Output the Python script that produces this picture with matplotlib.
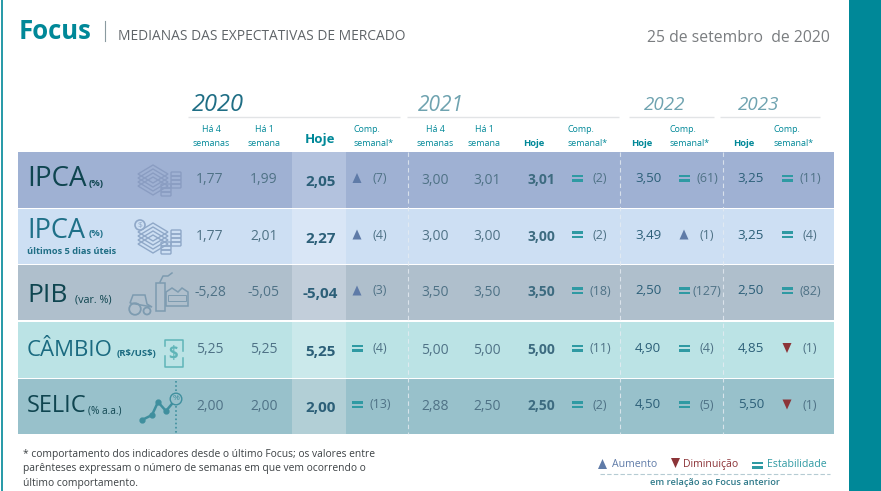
import matplotlib
matplotlib.use("Agg")
import matplotlib.pyplot as plt
from matplotlib.patches import Rectangle, Polygon, Circle, FancyBboxPatch

plt.rcParams["font.family"] = ["Open Sans", "DejaVu Sans"]

# ── data ─────────────────────────────────────────────────────────────────────
indicators = ["IPCA", "IPCA", "PIB", "CÂMBIO", "SELIC"]
units = ["(%)", "(%)", "(var. %)", "(R$/US$)", "(% a.a.)"]

y2020_4w = ["1,77", "1,77", "-5,28", "5,25", "2,00"]
y2020_1w = ["1,99", "2,01", "-5,05", "5,25", "2,00"]
y2020_today = ["2,05", "2,27", "-5,04", "5,25", "2,00"]
y2020_dir = ["up", "up", "up", "eq", "eq"]
y2020_n = ["(7)", "(4)", "(3)", "(4)", "(13)"]

y2021_4w = ["3,00", "3,00", "3,50", "5,00", "2,88"]
y2021_1w = ["3,01", "3,00", "3,50", "5,00", "2,50"]
y2021_today = ["3,01", "3,00", "3,50", "5,00", "2,50"]
y2021_dir = ["eq", "eq", "eq", "eq", "eq"]
y2021_n = ["(2)", "(2)", "(18)", "(11)", "(2)"]

y2022_today = ["3,50", "3,49", "2,50", "4,90", "4,50"]
y2022_dir = ["eq", "up", "eq", "eq", "eq"]
y2022_n = ["(61)", "(1)", "(127)", "(4)", "(5)"]

y2023_today = ["3,25", "3,25", "2,50", "4,85", "5,50"]
y2023_dir = ["eq", "eq", "eq", "down", "down"]
y2023_n = ["(11)", "(4)", "(82)", "(1)", "(1)"]

# ── layout and colours ───────────────────────────────────────────────────────
TEAL = "#008898"
UP = "#5F7BA8"
DOWN = "#8C3438"
EQ = "#2F9AA3"
VAL = "#4F7286"
BOLD = "#2C5F78"
row_top = [152, 209, 265, 322, 379]
row_bot = [208, 264, 320, 378, 434]
row_col = ["#9FB1D3", "#CDDFF3", "#AFBFCC", "#BBE3E5", "#98C1CB"]
hoje_col = ["#B3C2DE", "#D9E6F6", "#C2CEDA", "#CBE9EB", "#B2CFD6"]
name_col = ["#0F4550", "#1F7088", "#0F4550", "#1A6A80", "#0F4550"]
name_size = [20, 19.5, 19, 16, 17]
name_y = [177, 229, 294, 349, 405]
unit_x = [89, 89, 75, 117, 88]
unit_y = [183, 234, 300, 354, 411]
unit_size = [6.8, 6.8, 7.8, 6.8, 7.3]

fig = plt.figure(figsize=(8.81, 4.91), dpi=100)
ax = fig.add_axes([0, 0, 1, 1])
ax.set_xlim(0, 881)
ax.set_ylim(491, 0)
ax.axis("off")


def txt(x, y, s, size, color, ha="center", weight="normal", **kw):
    ax.text(x, y + 1.5, s, fontsize=size, color=color, ha=ha, va="center",
            fontweight=weight, parse_math=False, **kw)


def hline(x0, x1, y, color, lw=1.0, **kw):
    ax.plot([x0, x1], [y, y], color=color, lw=lw, solid_capstyle="butt", **kw)


def marker(x, y, kind):
    if kind == "up":
        ax.add_patch(Polygon([(x - 4.5, y + 5), (x + 4.5, y + 5), (x, y - 5)], color=UP, lw=0))
    elif kind == "down":
        ax.add_patch(Polygon([(x - 4.5, y - 5), (x + 4.5, y - 5), (x, y + 5)], color=DOWN, lw=0))
    else:
        ax.add_patch(Rectangle((x - 5.5, y - 3.5), 11, 2.6, color=EQ, lw=0))
        ax.add_patch(Rectangle((x - 5.5, y + 1), 11, 2.6, color=EQ, lw=0))


def coins_icon(x, y, c, dollar=False):
    # stacked notes and coins, drawn loosely
    for k in range(4):
        ax.add_patch(Polygon([(x, y + 2 + k * 4), (x + 15, y - 7 + k * 4), (x + 30, y + 2 + k * 4),
                              (x + 15, y + 11 + k * 4)], fc="none", ec=c, lw=1.0))
    for cx, cy, n in [(x + 38, y + 1, 4), (x + 28, y + 13, 3)]:
        for k in range(n):
            ax.add_patch(FancyBboxPatch((cx - 4, cy + k * 4), 8, 2, boxstyle="round,pad=1",
                                        fc="none", ec=c, lw=1.0))
    if dollar:
        ax.add_patch(Circle((x + 2, y - 5), 5, fc="none", ec=c, lw=1.2))
        ax.text(x + 2, y - 5, "$", fontsize=6, color=c, ha="center", va="center", parse_math=False)


# ── frame and header ─────────────────────────────────────────────────────────
ax.add_patch(Rectangle((849, 0), 32, 491, color=TEAL, lw=0))
ax.plot([1.5, 1.5], [0, 491], color=TEAL, lw=1.2)
txt(19, 29.5, "Focus", 18.5, TEAL, ha="left", weight="bold")
ax.plot([104.5, 104.5], [21, 41], color="#8A9AA0", lw=0.8)
txt(118, 34.5, "MEDIANAS DAS EXPECTATIVAS DE MERCADO", 9.9, "#5F6468", ha="left")
txt(830, 36, "25 de setembro  de 2020", 11.3, "#7A7D80", ha="right")

# ── year headers ─────────────────────────────────────────────────────────────
for x, label, size, col in [(192, "2020", 17, "#1F6E85"), (418, "2021", 15, "#6FA3B0"),
                            (644, "2022", 13.5, "#6FA3B0"), (738, "2023", 13.5, "#6FA3B0")]:
    ax.text(x, 105, label, fontsize=size, color=col, ha="left", va="center", style="italic")
for x0, x1 in [(188, 400), (407, 619), (629, 714), (720, 820)]:
    hline(x0, x1, 116.5, "#E2E4E6", lw=1.0)

for x, a, b in [(211, "Há 4", "semanas"), (264, "Há 1", "semana"),
                (435, "Há 4", "semanas"), (484, "Há 1", "semana")]:
    txt(x, 128.5, a, 6.4, TEAL)
    txt(x, 141.5, b, 6.4, TEAL)
for x in [354, 567, 669, 773]:
    txt(x, 128.5, "Comp.", 6.4, TEAL, ha="left")
    txt(x, 141.5, "semanal*", 6.4, TEAL, ha="left")
txt(320, 138.5, "Hoje", 9.5, TEAL, weight="bold")
for x in [534, 642, 744]:
    txt(x, 141.5, "Hoje", 6.8, TEAL, weight="bold")

# ── table rows ───────────────────────────────────────────────────────────────
for i in range(5):
    top, bot = row_top[i], row_bot[i]
    ax.add_patch(Rectangle((18, top), 816, bot - top, color=row_col[i], lw=0))
    ax.add_patch(Rectangle((292, top), 54, bot - top, color=hoje_col[i], lw=0))
    mid = (top + bot) / 2

    txt(27, name_y[i], indicators[i], name_size[i], name_col[i], ha="left")
    txt(unit_x[i], unit_y[i] - 1.5, units[i], unit_size[i], name_col[i], ha="left",
        weight="bold" if i in (0, 1, 3) else "normal")

    # 2020
    txt(210, mid - 2, y2020_4w[i], 10, VAL)
    txt(264, mid - 2, y2020_1w[i], 10, VAL)
    txt(320.5, mid + 0.5, y2020_today[i], 11, BOLD, weight="bold")
    marker(357, mid - 2, y2020_dir[i])
    txt(380, mid - 3, y2020_n[i], 9, VAL)
    # 2021
    txt(435, mid - 1.5, y2021_4w[i], 10, VAL)
    txt(487, mid - 1.5, y2021_1w[i], 10, VAL)
    txt(541, mid - 1.5, y2021_today[i], 10, "#3D6B80", weight="bold")
    marker(577, mid - 2, y2021_dir[i])
    txt(600, mid - 2.5, y2021_n[i], 9, VAL)
    # 2022
    txt(648, mid - 3, y2022_today[i], 9.6, BOLD)
    marker(684, mid - 2, y2022_dir[i])
    txt(707, mid - 2.5, y2022_n[i], 9, VAL)
    # 2023
    txt(751, mid - 3, y2023_today[i], 9.6, BOLD)
    marker(787, mid - 2, y2023_dir[i])
    txt(810, mid - 2.5, y2023_n[i], 9, VAL)

txt(27, 249.5, "últimos 5 dias úteis", 6.7, "#1F6E85", ha="left", weight="bold")

for x in [407.5, 619.5, 722.5]:
    ax.plot([x, x], [152, 434], color="#E6ECF2", lw=0.8, ls=(0, (4, 3)), alpha=0.8)

# ── icons ────────────────────────────────────────────────────────────────────
coins_icon(138, 172, "#8A9DC2")
coins_icon(138, 230, "#8FA8C8", dollar=True)

c = "#7D9BB0"
ax.add_patch(Rectangle((156, 283), 9, 28, fc="none", ec=c, lw=1.1))
ax.add_patch(Polygon([(166, 306), (166, 292), (172, 288), (178, 292), (182, 288), (188, 292), (188, 306)],
                     fc="none", ec=c, lw=1.1))
ax.add_patch(Rectangle((168, 295), 18, 6, fc="none", ec=c, lw=0.7))
ax.plot([160, 163, 168, 172], [282, 276, 276, 273], color=c, lw=1.1)
ax.add_patch(Circle((135, 309), 5.8, fc="none", ec=c, lw=1.3))
ax.add_patch(Circle((147, 311), 3.5, fc="none", ec=c, lw=1.3))
ax.add_patch(Polygon([(130, 303), (133, 295), (145, 295), (147, 304), (152, 307)], fc="none", ec=c, lw=1.1))

c = "#5FB5B8"
ax.plot([164.5, 164.5, 182.5, 182.5], [346, 340, 340, 351], color=c, lw=1.1)
ax.plot([164.5, 164.5, 182.5, 182.5], [356, 367, 367, 358], color=c, lw=1.1)
ax.text(173, 354, "$", fontsize=12, color=c, ha="center", va="center", fontweight="bold", parse_math=False)

c = "#3F8F9E"
line_x = [142, 152, 158, 166, 176]
line_y = [420, 415, 402, 411, 399]
ax.plot(line_x, line_y, color=c, lw=1.8, marker="o", ms=3.5)
ax.plot([176, 176], [381, 433], color=c, lw=1.2, ls=(0, (1, 1.5)))
ax.add_patch(Circle((176, 399), 5.8, fc="#98C1CB", ec=c, lw=1.0, zorder=3))
ax.text(176, 399, "%", fontsize=6, color=c, ha="center", va="center", zorder=4)

# ── footnote and legend ──────────────────────────────────────────────────────
txt(23, 453, "* comportamento dos indicadores desde o último Focus; os valores entre", 7.4, "#3C4144", ha="left")
txt(23, 467.5, "parênteses expressam o número de semanas em que vem ocorrendo o", 7.4, "#3C4144", ha="left")
txt(23, 482, "último comportamento.", 7.4, "#3C4144", ha="left")

marker(602.5, 464, "up")
txt(612, 463, "Aumento", 7.6, UP, ha="left")
marker(675.5, 463, "down")
txt(683.5, 463, "Diminuição", 7.6, DOWN, ha="left")
marker(757, 465, "eq")
txt(767, 463, "Estabilidade", 7.6, EQ, ha="left")
ax.plot([600, 830], [474, 474], color="#B5CBD3", lw=0.8, ls=(0, (4, 2)))
txt(715, 481, "em relação ao Focus anterior", 6.7, "#2F7A8A", weight="semibold")

fig.savefig("out.png", dpi=100)
